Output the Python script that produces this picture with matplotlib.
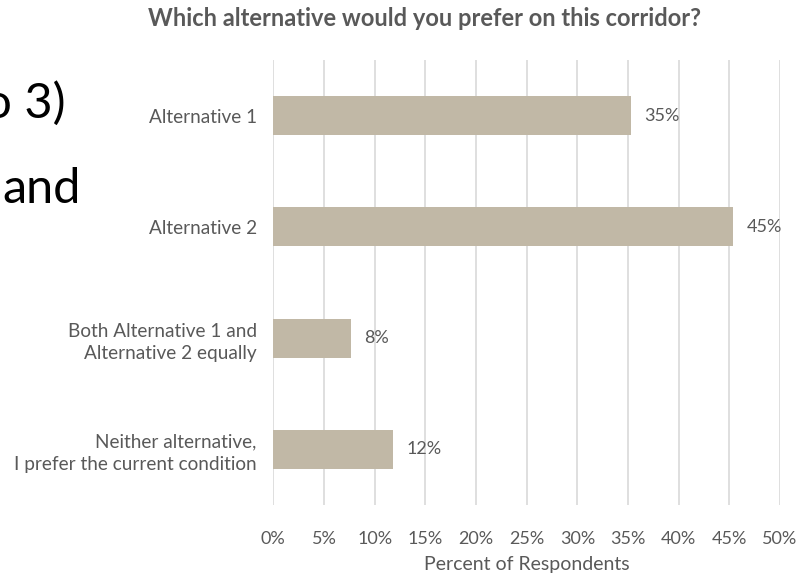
import matplotlib.pyplot as plt
from matplotlib.ticker import PercentFormatter

plt.rcParams['font.family'] = ['Lato', 'DejaVu Sans']

categories = ['Alternative 1', 'Alternative 2',
              'Both Alternative 1 and\nAlternative 2 equally',
              'Neither alternative,\nI prefer the current condition']
values = [35.3, 45.4, 7.7, 11.8]
value_labels = ['35%', '45%', '8%', '12%']
xticks = [0, 5, 10, 15, 20, 25, 30, 35, 40, 45, 50]

grey = '#595959'
bar_color = '#C1B8A6'

fig = plt.figure(figsize=(8.09, 5.74), dpi=100)

# leftover slide text, clipped at the figure edge
fig.text(66 / 809, 1 - 118 / 574, 'to 3)', fontsize=35, color='black',
         ha='right', va='baseline')
fig.text(2 / 809, 1 - 203 / 574, 'and', fontsize=35, color='black',
         ha='left', va='baseline')

ax = fig.add_axes([273.3 / 809, 1 - 505 / 574, (780 - 273.3) / 809, 445 / 574])

pos = list(range(len(categories)))
ax.barh(pos, values, height=0.35, color=bar_color, zorder=3)
for p, v, lab in zip(pos, values, value_labels):
    ax.text(v + 1.3, p, lab, va='center', ha='left', fontsize=13, color=grey)

ax.set_ylim(len(categories) - 0.5, -0.5)
ax.set_xlim(0, 50)
ax.set_xticks(xticks)
ax.xaxis.set_major_formatter(PercentFormatter(decimals=0))
ax.set_yticks(pos)
ax.set_yticklabels(categories, fontsize=13.7, color=grey, linespacing=1.4)
ax.tick_params(axis='x', labelsize=13, labelcolor=grey, length=0, pad=19)
ax.tick_params(axis='y', length=0, pad=12)
ax.grid(axis='x', color='#D9D9D9', linewidth=1.2, zorder=0)
for s in ax.spines.values():
    s.set_visible(False)
ax.set_xlabel('Percent of Respondents', fontsize=14, color=grey, labelpad=6)

fig.text(424 / 809, 1 - 26 / 574, 'Which alternative would you prefer on this corridor?',
         fontsize=17, fontweight='bold', color=grey, ha='center', va='baseline')

plt.savefig('out.png', dpi=100)
